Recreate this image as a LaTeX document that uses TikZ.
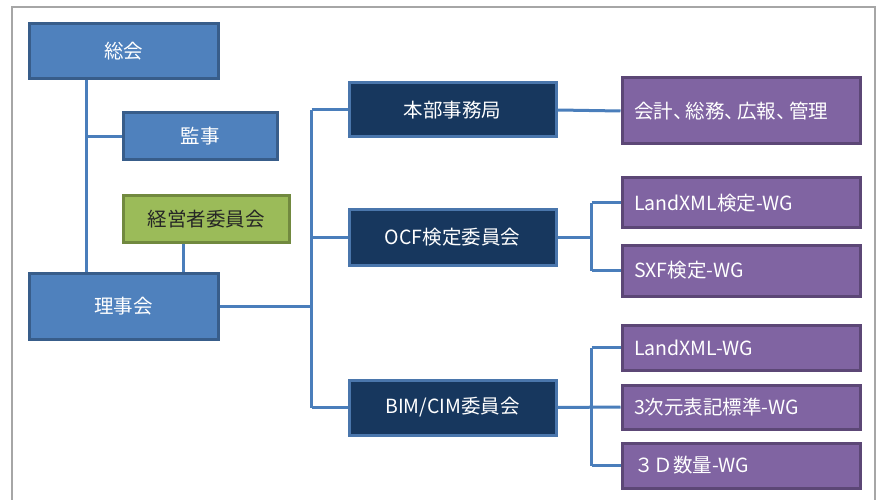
\documentclass[tikz,border=0pt]{standalone}
\usepackage{fontspec}
\setmainfont{Noto Sans CJK JP}
\definecolor{bluefill}{HTML}{4F81BD}
\definecolor{blueedge}{HTML}{385D8A}
\definecolor{navyfill}{HTML}{17375E}
\definecolor{navyedge}{HTML}{4A76AC}
\definecolor{purpfill}{HTML}{8064A2}
\definecolor{purpedge}{HTML}{5C4776}
\definecolor{greenfill}{HTML}{9BBB59}
\definecolor{greenedge}{HTML}{71893F}
\definecolor{linecol}{HTML}{4A7EBB}
\definecolor{panelgray}{HTML}{A6A6A6}
\tikzset{
  basebox/.style={draw, line width=3pt, inner sep=0pt, font=\fontsize{19.5}{22}\selectfont},
  bluebox/.style={basebox, fill=bluefill, draw=blueedge, text=white},
  navybox/.style={basebox, fill=navyfill, draw=navyedge, text=white, minimum width=207pt},
  purpbox/.style={basebox, fill=purpfill, draw=purpedge, text=white, inner xsep=12pt, text width=214pt, align=left},
  greenbox/.style={basebox, fill=greenfill, draw=greenedge, text=black!85},
  conn/.style={draw=linecol, line width=3pt}
}
\newcommand{\tc}{、\kern-0.35em}
\begin{document}
\begin{tikzpicture}[x=1pt,y=-1pt]
\useasboundingbox (0,0) rectangle (879,500);
\fill[white] (0,0) rectangle (879,500);
\draw[panelgray, line width=2pt] (12,520) -- (12,7) -- (875,7) -- (875,520);

% boxes
\node[bluebox, minimum width=189pt, minimum height=55pt] (sokai) at (123.5,51.5) {総会};
\node[bluebox, minimum width=154pt, minimum height=47pt] (kanji) at (200,136.5) {監事};
\node[greenbox, minimum width=166pt, minimum height=46pt] (keiei) at (206,219) {経営者委員会};
\node[bluebox, minimum width=189pt, minimum height=66pt] (riji) at (123.5,306) {理事会};

\node[navybox, minimum height=54pt] (hq) at (452.5,110) {本部事務局};
\node[navybox, minimum height=55pt] (ocf) at (452.5,237.5) {OCF検定委員会};
\node[navybox, minimum height=55pt] (bim) at (452.5,407.5) {BIM/CIM委員会};

\node[purpbox, minimum height=66pt] (acc) at (741,111) {会計\tc 総務\tc 広報\tc 管理};
\node[purpbox, minimum height=50pt] (lxk) at (741,203) {LandXML検定-WG};
\node[purpbox, minimum height=51pt] (sxf) at (741,270.5) {SXF検定-WG};
\node[purpbox, minimum height=45pt] (lxw) at (741,347.5) {LandXML-WG};
\node[purpbox, minimum height=44pt] (tri) at (741,407) {3次元表記標準-WG};
\node[purpbox, minimum height=45pt] (qty) at (741,465.5) {３Ｄ数量-WG};

% left tree
\coordinate (vtop) at ([xshift=59pt]sokai.south west);
\coordinate (vbot) at (vtop |- riji.north);
\draw[conn] (vtop) -- (vbot);
\draw[conn] (kanji.west) -- (kanji.west -| vtop);
\coordinate (ktop) at ([xshift=62pt]keiei.south west);
\draw[conn] (ktop) -- (ktop |- riji.north);

% trunk
\coordinate (trunk) at ([xshift=92pt]riji.east);
\draw[conn] (riji.east) -- (trunk);
\draw[conn] (trunk |- hq.west) -- (trunk |- bim.west);
\draw[conn] (trunk |- hq.west) -- (hq.west);
\draw[conn] (trunk |- ocf.west) -- (ocf.west);
\draw[conn] (trunk |- bim.west) -- (bim.west);

% right side
\draw[conn] (hq.east) -- (acc.west);
\coordinate (ob) at ([xshift=34pt]ocf.east);
\draw[conn] (ocf.east) -- (ob);
\draw[conn] (ob |- lxk.west) -- (ob |- sxf.west);
\draw[conn] (ob |- lxk.west) -- (lxk.west);
\draw[conn] (ob |- sxf.west) -- (sxf.west);
\coordinate (bb) at ([xshift=34pt]bim.east);
\draw[conn] (bim.east) -- (tri.west);
\draw[conn] (bb |- lxw.west) -- (bb |- qty.west);
\draw[conn] (bb |- lxw.west) -- (lxw.west);
\draw[conn] (bb |- qty.west) -- (qty.west);
\end{tikzpicture}
\end{document}
